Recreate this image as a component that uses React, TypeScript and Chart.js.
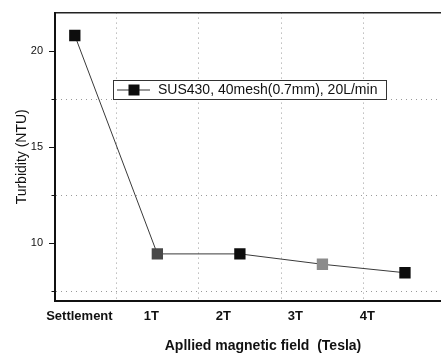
import React, { useEffect, useRef } from 'react';
import { Chart, registerables } from 'chart.js';

Chart.register(...registerables);

const categories = ['Settlement', '1T', '2T', '3T', '4T'];
const turbidity = [20.81, 9.45, 9.45, 8.91, 8.47];
const yTickValues = [7.5, 10, 12.5, 15, 17.5, 20];
const seriesLabel = 'SUS430, 40mesh(0.7mm), 20L/min';
const markerColors = ['#0d0d0d', '#484848', '#0d0d0d', '#8c8c8c', '#0d0d0d'];

const FONT = '"Liberation Sans", Arial, Helvetica, sans-serif';

const legendPlugin = {
  id: 'boxLegend',
  afterDatasetsDraw(chart: any) {
    const { ctx, chartArea } = chart;
    const ds = chart.data.datasets[0];
    const x = Math.round(chartArea.left + 58);
    const y = Math.round(chartArea.top + 67);
    const w = 273;
    const h = 19;
    ctx.save();
    ctx.fillStyle = '#ffffff';
    ctx.fillRect(x, y, w, h);
    ctx.strokeStyle = '#333333';
    ctx.lineWidth = 1;
    ctx.strokeRect(x + 0.5, y + 0.5, w, h);
    const cy = y + h / 2 + 0.5;
    ctx.beginPath();
    ctx.moveTo(x + 4, cy);
    ctx.lineTo(x + 37, cy);
    ctx.strokeStyle = '#333333';
    ctx.stroke();
    ctx.fillStyle = '#0d0d0d';
    ctx.fillRect(x + 21 - 5.5, cy - 5.5, 11, 11);
    ctx.font = `14px ${FONT}`;
    ctx.fillStyle = '#111111';
    ctx.textBaseline = 'middle';
    ctx.textAlign = 'left';
    ctx.fillText(ds.label, x + 45, cy + 0.5);
    ctx.restore();
  },
};

export default function App() {
  const canvasRef = useRef<HTMLCanvasElement | null>(null);

  useEffect(() => {
    document.body.style.margin = '0';
    const canvas = canvasRef.current;
    if (!canvas) return;
    Chart.defaults.font.family = FONT;
    const chart = new Chart(canvas, {
      type: 'line',
      data: {
        datasets: [
          {
            label: seriesLabel,
            data: turbidity.map((v, i) => ({ x: i, y: v })),
            borderColor: '#3a3a3a',
            borderWidth: 1,
            pointStyle: 'rect',
            pointRadius: 8,
            pointBorderWidth: 0,
            pointBackgroundColor: markerColors,
            pointBorderColor: markerColors,
            tension: 0,
          },
        ],
      },
      options: {
        animation: false,
        responsive: false,
        devicePixelRatio: 1,
        events: [],
        layout: { padding: { top: 11, right: 9, bottom: 0, left: 0 } },
        plugins: {
          legend: { display: false },
          title: { display: false },
          tooltip: { enabled: false },
        },
        scales: {
          x: {
            type: 'linear',
            position: 'bottom',
            display: true,
            min: -0.24,
            max: 4.8,
            afterBuildTicks: (s: any) => {
              s.ticks = categories.slice(1).map((_, i) => ({ value: i + 0.5 }));
            },
            ticks: { display: false },
            grid: { color: '#9a9a9a', lineWidth: 1, drawTicks: false },
            border: { display: true, width: 2, color: '#111111', dash: [1, 4] },
          },
          xLabels: {
            type: 'linear',
            position: 'bottom',
            display: true,
            min: -0.339,
            max: 5.439,
            afterBuildTicks: (s: any) => {
              s.ticks = categories.map((_, i) => ({ value: i }));
            },
            afterFit: (s: any) => {
              s.height = 55;
            },
            ticks: {
              callback: (_v: any, i: number) => categories[i],
              autoSkip: false,
              maxRotation: 0,
              padding: 8,
              color: '#111111',
              font: { size: 13, weight: 'bold', family: FONT },
            },
            grid: { display: false, drawTicks: false },
            border: { display: false },
            title: {
              display: true,
              text: 'Apllied magnetic field  (Tesla)',
              color: '#111111',
              font: { size: 14, weight: 'bold', family: FONT },
              padding: { top: 0, bottom: 1 },
            },
          },
          xTop: {
            type: 'linear',
            position: 'top',
            display: true,
            min: 0,
            max: 1,
            ticks: { display: false },
            grid: { display: false, drawTicks: false },
            border: { display: true, width: 1.5, color: '#222222' },
          },
          y: {
            type: 'linear',
            min: 7,
            max: 22,
            afterBuildTicks: (s: any) => {
              s.ticks = yTickValues.map((v) => ({ value: v }));
            },
            afterFit: (s: any) => {
              s.width = 55;
            },
            ticks: {
              callback: (v: any) => (Number(v) % 5 === 0 ? String(v) : ''),
              color: '#111111',
              padding: 6,
              font: { size: 11, family: FONT },
            },
            grid: {
              color: (c: any) =>
                c.tick && c.tick.value % 5 !== 0 ? '#9a9a9a' : 'rgba(0,0,0,0)',
              tickColor: '#111111',
              tickLength: 6,
              tickWidth: 1,
              tickBorderDash: (c: any) =>
                c.tick && c.tick.value % 5 !== 0 ? [0, 2.5, 3, 100] : [],
            },
            border: { display: true, width: 2, color: '#111111', dash: [1, 4] },
            title: {
              display: true,
              text: 'Turbidity (NTU)',
              color: '#111111',
              font: { size: 14, family: FONT },
              padding: { top: 14, bottom: 0 },
            },
          },
        },
      } as any,
      plugins: [legendPlugin],
    });
    return () => chart.destroy();
  }, []);

  return (
    <div style={{ width: 441, height: 356, overflow: 'hidden', position: 'relative' }}>
      <canvas ref={canvasRef} width={480} height={356} style={{ display: 'block' }} />
    </div>
  );
}
